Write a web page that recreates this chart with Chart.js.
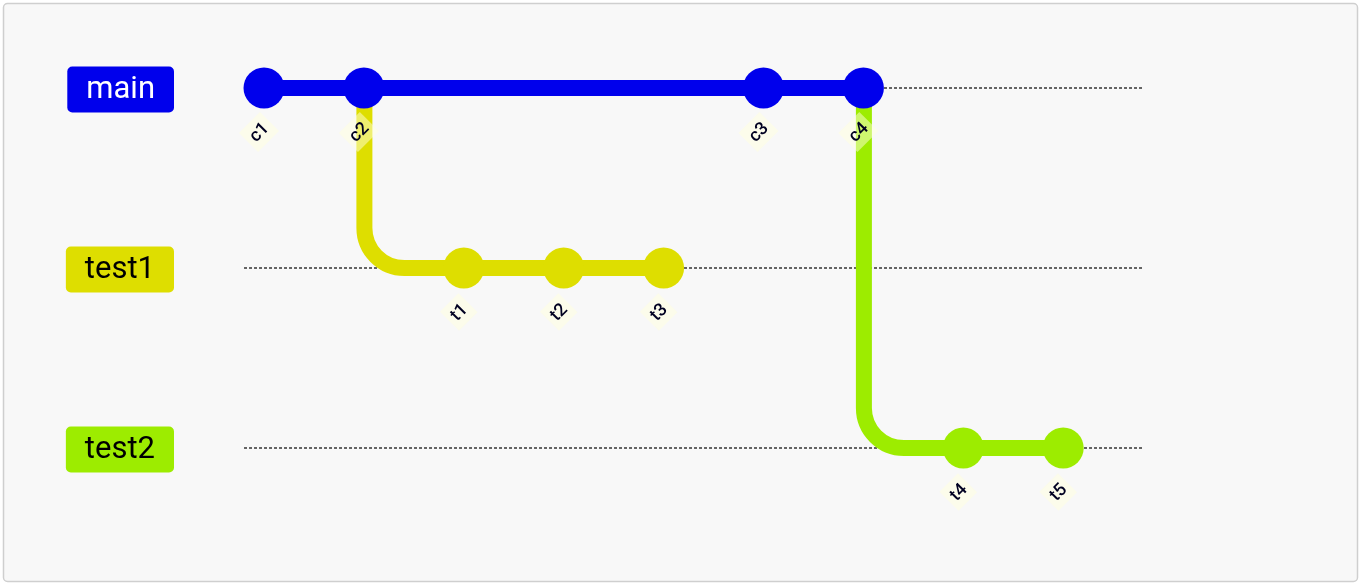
<!DOCTYPE html>
<html><head><meta charset="utf-8">
<script src="https://cdn.jsdelivr.net/npm/chart.js@4.4.1/dist/chart.umd.min.js"></script>
<style>html,body{margin:0;padding:0;background:#fff;} #wrap{width:1360px;height:583px;position:relative;}</style>
</head><body><div id="wrap"><canvas id="c"></canvas></div>
<script>
// ---- data ----
const branches = ['main', 'test1', 'test2'];
const branchColors = ['#0000ec', '#dede00', '#9dec00'];
const branchTextColors = ['#ffffff', '#000000', '#000000'];
const branchForkCommit = [null, 'c2', 'c4'];
const commits = ['c1', 'c2', 't1', 't2', 't3', 'c3', 'c4', 't4', 't5'];
const commitBranch = ['main', 'main', 'test1', 'test1', 'test1', 'main', 'main', 'test2', 'test2'];
const commitOrder = [0, 1, 2, 3, 4, 5, 6, 7, 8];
const laneStart = -0.2, laneEnd = 8.8;

const FONT = 'Roboto, "DejaVu Sans", sans-serif';

const laneDatasets = branches.map((b, bi) => ({
  type: 'line',
  label: b + ' lane',
  data: [{x: laneStart, y: bi}, {x: laneEnd, y: bi}],
  borderColor: '#333',
  borderWidth: 1.5,
  borderDash: [3, 2],
  pointRadius: 0,
  order: 3
}));

const commitDataset = {
  id: 'commits',
  type: 'line',
  label: 'commits',
  showLine: false,
  data: commits.map((c, i) => ({x: commitOrder[i], y: branches.indexOf(commitBranch[i])})),
  pointRadius: 20.5,
  pointHoverRadius: 20.5,
  pointBorderWidth: 0,
  pointBackgroundColor: commitBranch.map(b => branchColors[branches.indexOf(b)]),
  pointBorderColor: commitBranch.map(b => branchColors[branches.indexOf(b)]),
  order: 1
};

const framePlugin = {
  id: 'frame',
  beforeDraw(chart) {
    const ctx = chart.ctx;
    ctx.save();
    ctx.fillStyle = '#ffffff';
    ctx.fillRect(0, 0, chart.width, chart.height);
    ctx.beginPath();
    ctx.roundRect(3.5, 3.5, 1354, 578, 4);
    ctx.fillStyle = '#f8f8f8';
    ctx.fill();
    ctx.strokeStyle = '#cfcfcf';
    ctx.lineWidth = 1.5;
    ctx.stroke();
    ctx.restore();
  }
};

const pathPlugin = {
  id: 'gitPaths',
  beforeDatasetDraw(chart, args) {
    if (chart.data.datasets[args.index].id !== 'commits') return;
    const {ctx, scales: {x, y}} = chart;
    branches.forEach((b, bi) => {
      const idx = commits.map((c, i) => i).filter(i => commitBranch[i] === b);
      const last = idx[idx.length - 1];
      const xe = x.getPixelForValue(commitOrder[last]);
      const yr = y.getPixelForValue(bi);
      ctx.save();
      ctx.strokeStyle = branchColors[bi];
      ctx.lineWidth = 16;
      ctx.lineCap = 'butt';
      ctx.beginPath();
      const fork = branchForkCommit[bi];
      if (fork === null) {
        ctx.moveTo(x.getPixelForValue(commitOrder[idx[0]]), yr);
        ctx.lineTo(xe, yr);
      } else {
        const fi = commits.indexOf(fork);
        const fx = x.getPixelForValue(commitOrder[fi]) + 0.5;
        const fy = y.getPixelForValue(branches.indexOf(commitBranch[fi]));
        ctx.moveTo(fx, fy);
        ctx.arcTo(fx, yr, xe, yr, 40);
        ctx.lineTo(xe, yr);
      }
      ctx.stroke();
      ctx.restore();
    });
  },
  afterDatasetsDraw(chart) {
    const {ctx, scales: {x, y}} = chart;
    // commit labels
    commits.forEach((c, i) => {
      const px = x.getPixelForValue(commitOrder[i]) - 5;
      const py = y.getPixelForValue(branches.indexOf(commitBranch[i])) + 44;
      ctx.save();
      ctx.translate(px, py);
      ctx.rotate(-Math.PI / 4);
      ctx.font = '500 18px ' + FONT;
      const w = ctx.measureText(c).width + 10, h = 27;
      ctx.fillStyle = 'rgba(255,255,222,0.5)';
      ctx.fillRect(-w / 2, -h / 2, w, h);
      ctx.fillStyle = '#000021';
      ctx.textAlign = 'center';
      ctx.textBaseline = 'middle';
      ctx.fillText(c, 0, 1);
      ctx.restore();
    });
    // branch labels
    branches.forEach((b, bi) => {
      const cy = y.getPixelForValue(bi) + 1.5;
      ctx.save();
      ctx.font = '31px ' + FONT;
      const tw = ctx.measureText(b).width;
      const bw = tw + 38, bh = 46, right = 174;
      ctx.beginPath();
      ctx.roundRect(right - bw, cy - bh / 2, bw, bh, 5);
      ctx.fillStyle = branchColors[bi];
      ctx.fill();
      ctx.fillStyle = branchTextColors[bi];
      ctx.textAlign = 'center';
      ctx.textBaseline = 'middle';
      ctx.fillText(b, right - bw / 2, cy + 1);
      ctx.restore();
    });
  }
};

new Chart(document.getElementById('c'), {
  type: 'line',
  data: { datasets: [...laneDatasets, commitDataset] },
  options: {
    responsive: true,
    maintainAspectRatio: false,
    animation: false,
    events: [],
    layout: { padding: 0, autoPadding: false },
    plugins: { legend: { display: false }, tooltip: { enabled: false } },
    scales: {
      x: { type: 'linear', display: false, min: -264 / 99.9, max: (1360 - 264) / 99.9 },
      y: { type: 'linear', display: false, reverse: true, min: -88 / 180, max: (583 - 88) / 180 }
    }
  },
  plugins: [framePlugin, pathPlugin]
});
</script>
</body></html>
